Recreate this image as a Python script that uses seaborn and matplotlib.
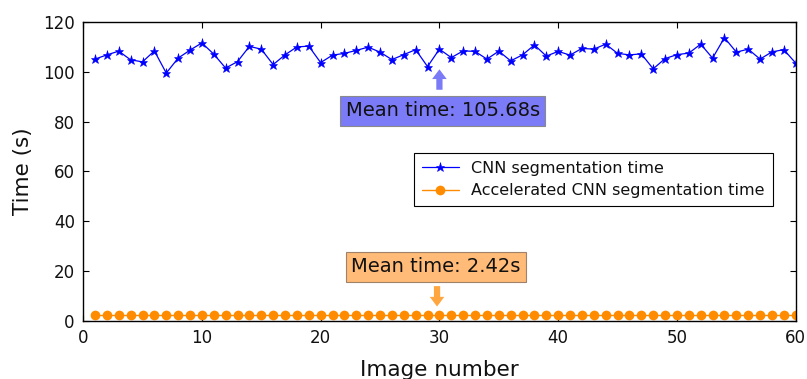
import matplotlib
matplotlib.use("Agg")
import matplotlib.pyplot as plt
import seaborn as sns
import pandas as pd

image_number = list(range(1, 61))
cnn_time = [105.1, 106.8, 108.3, 104.8, 104.0, 108.4, 99.5, 105.5, 108.7, 111.6,
            107.1, 101.5, 104.1, 110.2, 109.1, 102.9, 106.8, 110.0, 110.3, 103.7,
            106.7, 107.4, 108.6, 109.9, 107.9, 104.9, 106.9, 108.9, 102.1, 109.1,
            105.7, 108.4, 108.2, 105.1, 108.3, 104.4, 106.8, 110.8, 106.3, 108.2,
            106.7, 109.4, 109.1, 111.1, 107.4, 106.8, 107.2, 101.2, 105.3, 106.9,
            107.5, 111.1, 105.5, 113.7, 107.9, 109.1, 105.1, 108.0, 108.9, 103.5]
acc_time = [2.42] * 60
labels = ["CNN segmentation time", "Accelerated CNN segmentation time"]
mean_texts = ["Mean time: 105.68s", "Mean time: 2.42s"]

sns.set_theme(style="white")
plt.rcParams['font.family'] = ['DejaVu Sans']
plt.rcParams['text.color'] = '#111111'
plt.rcParams['axes.labelcolor'] = '#111111'

df_cnn = pd.DataFrame({"x": image_number, "y": cnn_time})
df_acc = pd.DataFrame({"x": image_number, "y": acc_time})

fig = plt.figure(figsize=(8.07, 3.79), dpi=100)
ax = fig.add_axes([0.103, 0.153, 0.883, 0.789])

sns.lineplot(data=df_cnn, x="x", y="y", ax=ax, color="#0000ff", marker="*",
             markersize=6.5, markeredgewidth=0.4, markeredgecolor="#0000ff",
             linewidth=0.9, label=labels[0])
sns.lineplot(data=df_acc, x="x", y="y", ax=ax, color="#ff8c00", marker="o",
             markersize=7, markeredgewidth=0, linewidth=1.0, label=labels[1])

ax.set_xlim(0, 60)
ax.set_ylim(0, 120)
ax.set_xticks(range(0, 61, 10))
ax.set_yticks(range(0, 121, 20))
ax.tick_params(direction="in", length=4, width=0.8, top=True, right=True,
               bottom=True, left=True, labelsize=12, colors="black", pad=6)
ax.tick_params(labelcolor="#111111")
for s in ax.spines.values():
    s.set_color("black")
    s.set_linewidth(1.0)
ax.set_xlabel("Image number", fontsize=15.5, labelpad=9)
ax.set_ylabel("Time (s)", fontsize=15.5, labelpad=7)

arrow_style = "simple,head_width=0.75,head_length=0.5,tail_width=0.32"

# annotations
ax.text(30.3, 84.3, mean_texts[0], fontsize=14, ha="center", va="center",
        bbox=dict(boxstyle="square,pad=0.28", facecolor="#7b7bf7", edgecolor="#8a8a8a", linewidth=0.8))
ax.annotate("", xy=(30, 101.0), xytext=(30, 92.8),
            arrowprops=dict(arrowstyle=arrow_style, color="#7b7bf7", lw=0,
                            mutation_scale=14, shrinkA=0, shrinkB=0))
ax.text(29.7, 21.7, mean_texts[1], fontsize=14, ha="center", va="center",
        bbox=dict(boxstyle="square,pad=0.28", facecolor="#ffbb77", edgecolor="#a0826a", linewidth=0.8))
ax.annotate("", xy=(29.8, 5.8), xytext=(29.8, 14.0),
            arrowprops=dict(arrowstyle=arrow_style, color="#ffa640", lw=0,
                            mutation_scale=14, shrinkA=0, shrinkB=0))

leg = ax.legend(loc="upper right", bbox_to_anchor=(0.968, 0.562), fontsize=11.5,
                frameon=True, fancybox=False, edgecolor="black", framealpha=1,
                handlelength=2.3, borderpad=0.5, labelspacing=0.45, borderaxespad=0)
leg.get_frame().set_linewidth(0.8)

fig.savefig("out.png", dpi=100)
